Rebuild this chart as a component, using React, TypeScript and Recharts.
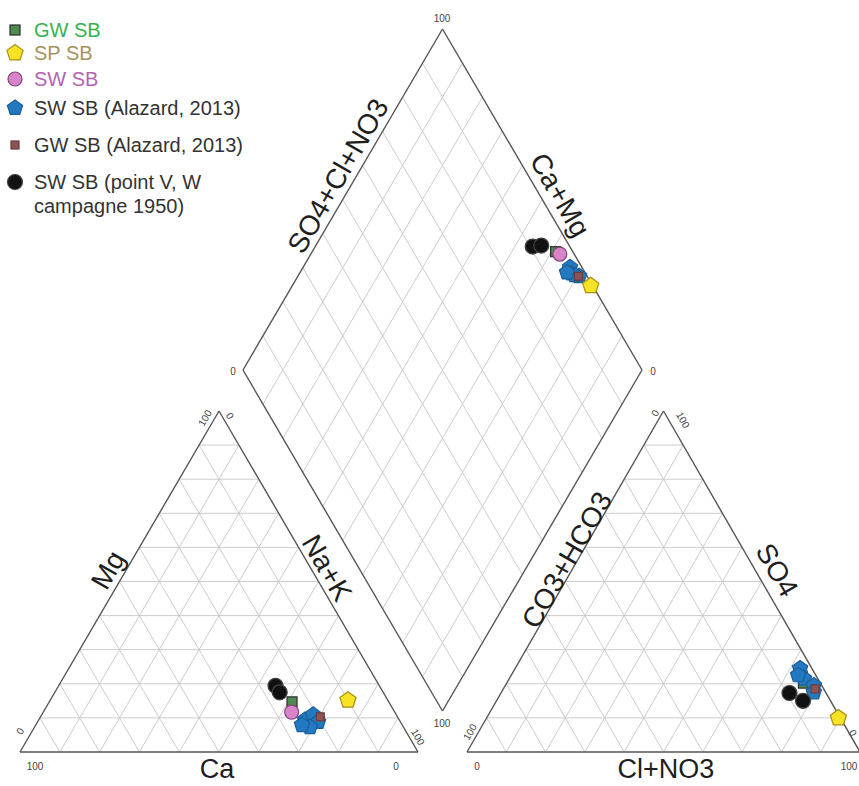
// Piper diagram (cations / anions / projection diamond) for the SB samples.
// Each sample is given as ionic percentages; the three positions of a sample
// (cation triangle, anion triangle, diamond) come from the usual Piper
// projection and are placed through the chart's own x/y scales.

import {
  ReferenceDot,
  ReferenceLine,
  Scatter,
  ScatterChart,
  XAxis,
  YAxis,
} from "recharts";

const WIDTH = 859;
const HEIGHT = 786;
const FONT = "'Liberation Sans', Arial, Helvetica, sans-serif";

// Samples: [Mg %, Na+K %, SO4 %, Cl+NO3 %]  (Ca and CO3+HCO3 are the remainders)
const gwSb = [[14.7, 61.0, 20.2, 75.5]];
const swSb = [[11.7, 62.4, 23.0, 73.4]];
const swAlazard = [
  [9.4, 66.9, 24.5, 72.5],
  [10.9, 68.2, 21.5, 75.0],
  [8.8, 70.5, 19.5, 78.5],
  [7.3, 69.2, 17.5, 79.5],
  [7.9, 66.9, 22.5, 73.0],
];
const gwAlazard = [[10.3, 70.3, 18.5, 79.3]];
const spSb = [[15.2, 74.8, 10.0, 89.5]];
const swPointV = [
  [19.4, 54.5, 17.3, 73.4],
  [17.5, 56.5, 15.0, 78.0],
];

const gridSteps = [10, 20, 30, 40, 50, 60, 70, 80, 90];

// ---- geometry (chart units == page pixels) ----
type Pt = { x: number; y: number };
const BASE_Y = 752;
const TRI_H = 341;
const CAT_X0 = 20;
const CAT_SIDE = 398;
const AN_X0 = 467;
const AN_SIDE = 393;
const DIA_T: Pt = { x: 442.5, y: 29 };
const DIA_L: Pt = { x: 243, y: 370 };
const DIA_R: Pt = { x: 642, y: 370 };
const DIA_B: Pt = { x: 442.5, y: 711 };

const lerp = (a: Pt, b: Pt, t: number): Pt => ({
  x: a.x + (b.x - a.x) * t,
  y: a.y + (b.y - a.y) * t,
});

function cationXY(mg: number, nak: number): Pt {
  return {
    x: CAT_X0 + (CAT_SIDE * (nak + mg / 2)) / 100,
    y: BASE_Y - (TRI_H * mg) / 100,
  };
}

function anionXY(so4: number, cl: number): Pt {
  return {
    x: AN_X0 + (AN_SIDE * (cl + so4 / 2)) / 100,
    y: BASE_Y - (TRI_H * so4) / 100,
  };
}

function diamondXY(s: number, c: number): Pt {
  return {
    x: DIA_B.x + s * (DIA_R.x - DIA_B.x) + c * (DIA_L.x - DIA_B.x),
    y: DIA_B.y + s * (DIA_R.y - DIA_B.y) + c * (DIA_L.y - DIA_B.y),
  };
}

function piperPoints(samples: number[][]): Pt[] {
  return samples.flatMap(([mg, nak, so4, cl]) => [
    cationXY(mg, nak),
    anionXY(so4, cl),
    diamondXY((so4 + cl) / 100, (100 - nak) / 100),
  ]);
}

function triangle(x0: number, side: number) {
  const a = { x: x0, y: BASE_Y };
  const b = { x: x0 + side, y: BASE_Y };
  const c = { x: x0 + side / 2, y: BASE_Y - TRI_H };
  const grid: [Pt, Pt][] = [];
  gridSteps.forEach((p) => {
    const t = p / 100;
    grid.push([lerp(a, c, t), lerp(b, c, t)]);
    grid.push([lerp(a, b, t), lerp(c, b, t)]);
    grid.push([lerp(b, a, t), lerp(c, a, t)]);
  });
  const edges: [Pt, Pt][] = [
    [a, b],
    [b, c],
    [c, a],
  ];
  return { grid, edges };
}

function diamond() {
  const grid: [Pt, Pt][] = [];
  const toR = { x: DIA_R.x - DIA_B.x, y: DIA_R.y - DIA_B.y };
  const toL = { x: DIA_L.x - DIA_B.x, y: DIA_L.y - DIA_B.y };
  gridSteps.forEach((p) => {
    const t = p / 100;
    const p1 = lerp(DIA_B, DIA_R, t);
    grid.push([p1, { x: p1.x + toL.x, y: p1.y + toL.y }]);
    const q1 = lerp(DIA_B, DIA_L, t);
    grid.push([q1, { x: q1.x + toR.x, y: q1.y + toR.y }]);
  });
  const edges: [Pt, Pt][] = [
    [DIA_B, DIA_R],
    [DIA_R, DIA_T],
    [DIA_T, DIA_L],
    [DIA_L, DIA_B],
  ];
  return { grid, edges };
}

const cat = triangle(CAT_X0, CAT_SIDE);
const an = triangle(AN_X0, AN_SIDE);
const dia = diamond();
const gridSegs = [...cat.grid, ...an.grid, ...dia.grid];
const edgeSegs = [...cat.edges, ...an.edges, ...dia.edges];

// text labels: [text, x, y, fontSize, angle]
const axisTitles: [string, number, number, number, number][] = [
  ["Ca", 217, 769, 27, 0],
  ["Cl+NO3", 666, 769, 27, 0],
  ["Mg", 108, 570, 28, -60],
  ["Na+K", 327, 568, 28, 60],
  ["CO3+HCO3", 567, 560, 28, -60],
  ["SO4", 777, 570, 28, 60],
  ["SO4+Cl+NO3", 338, 176, 28, -60],
  ["Ca+Mg", 560, 195, 28, 60],
];
const tickLabels: [string, number, number, number, number][] = [
  ["100", 442, 18, 10, 0],
  ["0", 233, 371, 10, 0],
  ["0", 653, 371, 10, 0],
  ["100", 442, 723, 10, 0],
  ["100", 35, 766, 10, 0],
  ["0", 396, 766, 10, 0],
  ["0", 20, 731, 10, -60],
  ["100", 205, 418, 10, -60],
  ["0", 230, 416, 10, 60],
  ["100", 418, 737, 10, 60],
  ["0", 477, 766, 10, 0],
  ["100", 849, 766, 10, 0],
  ["100", 470, 732, 10, -60],
  ["0", 655, 413, 10, -60],
  ["100", 683, 420, 10, 60],
  ["0", 853, 733, 10, 60],
];

type MarkStyle = {
  kind: "square" | "pentagon" | "circle";
  size: number;
  fill: string;
  stroke: string;
};

const series: {
  name: string;
  legend: string[];
  textColor: string;
  data: Pt[];
  style: MarkStyle;
  legendY: number;
}[] = [
  {
    name: "GW SB",
    legend: ["GW SB"],
    textColor: "#35b24f",
    data: piperPoints(gwSb),
    style: { kind: "square", size: 10, fill: "#4e8b52", stroke: "#2c2c2c" },
    legendY: 30,
  },
  {
    name: "SP SB",
    legend: ["SP SB"],
    textColor: "#a6925e",
    data: piperPoints(spSb),
    style: { kind: "pentagon", size: 8.5, fill: "#f6e326", stroke: "#a88f12" },
    legendY: 53,
  },
  {
    name: "SW SB",
    legend: ["SW SB"],
    textColor: "#b462b6",
    data: piperPoints(swSb),
    style: { kind: "circle", size: 7, fill: "#d984c9", stroke: "#7e447e" },
    legendY: 79,
  },
  {
    name: "SW SB (Alazard, 2013)",
    legend: ["SW SB (Alazard, 2013)"],
    textColor: "#333",
    data: piperPoints(swAlazard),
    style: { kind: "pentagon", size: 8, fill: "#2379c1", stroke: "#1b5f98" },
    legendY: 108,
  },
  {
    name: "GW SB (Alazard, 2013)",
    legend: ["GW SB (Alazard, 2013)"],
    textColor: "#333",
    data: piperPoints(gwAlazard),
    style: { kind: "square", size: 8, fill: "#8c5254", stroke: "#6a3b3d" },
    legendY: 145,
  },
  {
    name: "SW SB (point V, W campagne 1950)",
    legend: ["SW SB (point V, W", "campagne 1950)"],
    textColor: "#333",
    data: piperPoints(swPointV),
    style: { kind: "circle", size: 7.5, fill: "#111", stroke: "#444" },
    legendY: 182,
  },
];

// draw order in the figure (later on top)
const drawOrder = [0, 2, 3, 4, 1, 5];

function mark(st: MarkStyle, cx: number, cy: number) {
  if (st.kind === "square") {
    return (
      <rect
        x={cx - st.size / 2}
        y={cy - st.size / 2}
        width={st.size}
        height={st.size}
        fill={st.fill}
        stroke={st.stroke}
        strokeWidth={1.2}
      />
    );
  }
  if (st.kind === "pentagon") {
    const pts = [0, 1, 2, 3, 4]
      .map((k) => {
        const a = ((-90 + 72 * k) * Math.PI) / 180;
        return `${cx + st.size * Math.cos(a)},${cy + st.size * Math.sin(a)}`;
      })
      .join(" ");
    return <polygon points={pts} fill={st.fill} stroke={st.stroke} strokeWidth={1.2} />;
  }
  return <circle cx={cx} cy={cy} r={st.size} fill={st.fill} stroke={st.stroke} strokeWidth={1.2} />;
}

const textShape =
  (text: string, size: number, angle: number, color: string) => (p: any) => (
    <text
      x={p.cx}
      y={p.cy}
      fontSize={size}
      fontFamily={FONT}
      fill={color}
      textAnchor="middle"
      dominantBaseline="central"
      transform={angle ? `rotate(${angle} ${p.cx} ${p.cy})` : undefined}
    >
      {text}
    </text>
  );

function LegendBox() {
  return (
    <div style={{ position: "absolute", left: 0, top: 0, fontFamily: FONT }}>
      {series.map((s) => (
        <div key={s.name}>
          <svg
            width={30}
            height={30}
            style={{ position: "absolute", left: 0, top: s.legendY - 15 }}
          >
            {mark(s.style, 15, 15)}
          </svg>
          {s.legend.map((line, i) => (
            <div
              key={line}
              style={{
                position: "absolute",
                left: 34,
                top: s.legendY - 12 + i * 24,
                fontSize: 20,
                lineHeight: "24px",
                color: s.textColor,
                whiteSpace: "nowrap",
              }}
            >
              {line}
            </div>
          ))}
        </div>
      ))}
    </div>
  );
}

export default function App() {
  return (
    <div
      style={{
        position: "absolute",
        left: 0,
        top: 0,
        width: WIDTH,
        height: HEIGHT,
        background: "#fff",
        overflow: "hidden",
      }}
    >
      <ScatterChart
        width={WIDTH}
        height={HEIGHT}
        margin={{ top: 0, right: 0, bottom: 0, left: 0 }}
      >
        <XAxis type="number" dataKey="x" domain={[0, WIDTH]} allowDataOverflow hide />
        <YAxis
          type="number"
          dataKey="y"
          domain={[0, HEIGHT]}
          allowDataOverflow
          reversed
          hide
        />
        {gridSegs.map((s, i) => (
          <ReferenceLine
            key={`g${i}`}
            segment={s}
            stroke="#c6c6c6"
            strokeWidth={0.9}
            ifOverflow="visible"
          />
        ))}
        {edgeSegs.map((s, i) => (
          <ReferenceLine
            key={`e${i}`}
            segment={s}
            stroke="#555"
            strokeWidth={1.4}
            ifOverflow="visible"
          />
        ))}
        {axisTitles.map(([t, x, y, size, angle], i) => (
          <ReferenceDot
            key={`t${i}`}
            x={x}
            y={y}
            r={0}
            ifOverflow="visible"
            shape={textShape(t, size, angle, "#1e1e1e")}
          />
        ))}
        {tickLabels.map(([t, x, y, size, angle], i) => (
          <ReferenceDot
            key={`k${i}`}
            x={x}
            y={y}
            r={0}
            ifOverflow="visible"
            shape={textShape(t, size, angle, "#444")}
          />
        ))}
        {drawOrder.map((idx) => {
          const s = series[idx];
          return (
            <Scatter
              key={s.name}
              name={s.name}
              data={s.data}
              isAnimationActive={false}
              shape={(p: any) => mark(s.style, p.cx, p.cy)}
            />
          );
        })}
      </ScatterChart>
      <LegendBox />
    </div>
  );
}
